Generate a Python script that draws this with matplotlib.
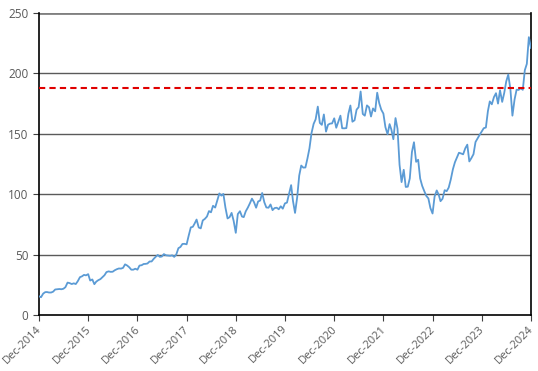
import pandas as pd
import matplotlib
matplotlib.use("Agg")
import matplotlib.pyplot as plt
import matplotlib.transforms as mtransforms

# semi-monthly closes (15th and month end)
start_value = 15.5  # 31 Dec 2014
p2015 = [14.7, 17.7, 18.9, 19.0, 18.6, 18.6, 19.3, 21.1, 21.3, 21.5, 21.3, 21.7,
         23.0, 26.8, 26.4, 25.6, 26.2, 25.6, 28.0, 31.3, 32.0, 33.2, 32.8, 33.8]
p2016 = [28.5, 29.4, 25.5, 27.6, 28.8, 29.7, 31.3, 32.9, 35.5, 36.1, 35.7, 35.8,
         37.0, 37.9, 38.5, 38.4, 39.0, 41.9, 41.0, 39.5, 37.5, 37.5, 38.3, 37.5]
p2017 = [40.9, 41.2, 42.2, 42.3, 42.6, 44.3, 44.3, 46.4, 48.1, 49.7, 48.1, 48.4,
         50.4, 49.4, 49.2, 49.0, 49.4, 48.1, 50.0, 55.3, 56.3, 58.8, 58.9, 58.5]
p2018 = [65.5, 72.5, 73.0, 75.6, 79.0, 72.4, 71.7, 78.3, 79.5, 81.5, 86.0, 85.0,
         90.4, 88.9, 94.5, 100.6, 98.8, 100.2, 89.0, 79.9, 81.0, 84.5, 78.0, 68.0]
p2019 = [83.5, 85.9, 81.5, 81.0, 85.8, 89.0, 92.5, 96.3, 93.5, 88.8, 94.0, 94.7,
         101.0, 93.3, 89.0, 88.8, 91.5, 86.8, 88.5, 88.8, 87.5, 90.0, 88.0, 92.4]
p2020 = [93.0, 100.4, 107.5, 94.2, 84.5, 97.5, 115.4, 123.7, 122.0, 122.1, 129.5, 137.9,
         150.4, 158.2, 162.0, 172.5, 159.0, 157.4, 166.0, 151.8, 157.5, 158.4, 158.6, 162.8]
p2021 = [155.0, 160.3, 165.0, 154.6, 154.5, 154.7, 166.5, 173.4, 160.0, 161.2, 170.0, 172.0,
         185.0, 166.4, 165.0, 173.5, 172.0, 164.3, 171.0, 168.6, 184.0, 175.4, 170.0, 166.7]
p2022 = [155.5, 149.6, 158.0, 153.6, 145.5, 163.0, 154.0, 124.3, 110.0, 120.2, 106.0, 106.2,
         113.0, 135.0, 143.0, 126.8, 128.5, 113.0, 106.9, 102.4, 98.5, 96.5, 88.5, 84.0]
p2023 = [98.0, 103.1, 99.5, 94.2, 96.2, 103.3, 102.5, 105.5, 112.0, 120.6, 126.4, 130.4,
         134.3, 133.7, 133.0, 138.0, 141.0, 127.1, 129.8, 133.1, 143.2, 146.1, 149.0, 151.9]
p2024 = [154.6, 155.2, 168.8, 176.8, 174.4, 180.4, 183.6, 175.0, 186.0, 176.4, 183.7, 193.3,
         199.0, 187.0, 165.0, 178.5, 186.5, 186.3, 187.7, 186.4, 202.6, 207.9, 230.0, 221.0]
years = [2015, 2016, 2017, 2018, 2019, 2020, 2021, 2022, 2023, 2024]
ref_level = 188
tick_years = list(range(2014, 2025))

prices = [start_value]
dates = [pd.Timestamp(2014, 12, 31)]
for y, vals in zip(years, [p2015, p2016, p2017, p2018, p2019, p2020,
                            p2021, p2022, p2023, p2024]):
    prices += vals
    for m in range(1, 13):
        dates.append(pd.Timestamp(y, m, 15))
        dates.append(pd.Timestamp(y, m, 1) + pd.offsets.MonthEnd(0))

plt.rcParams['font.family'] = ['Open Sans', 'DejaVu Sans']
fig = plt.figure(figsize=(5.38, 3.71), dpi=100)
ax = fig.add_axes([0.0725, 0.151, 0.9145, 0.814])

# gridlines
for v in [50, 100, 150, 200]:
    ax.axhline(v, color='#5a5a5a', lw=1.0, zorder=1)
ax.axhline(250, color='#808080', lw=2.0, zorder=1)

ax.plot(dates, prices, color='#5B9BD5', lw=1.3, zorder=3)
ax.axhline(ref_level, color='#E00000', lw=1.5, ls=(0, (3, 2)), zorder=4)

ax.set_ylim(0, 250)
ax.set_yticks([0, 50, 100, 150, 200, 250])
ax.set_xlim(pd.Timestamp(2014, 12, 31), pd.Timestamp(2024, 12, 31))
ticks = [pd.Timestamp(y, 12, 31) for y in tick_years]
ax.set_xticks(ticks)
ax.set_xticklabels([])

# rotated date labels, nudged a little left so the last one stays inside
lbl_tr = ax.get_xaxis_transform() + mtransforms.ScaledTranslation(
    -2 / 72, -6 / 72, fig.dpi_scale_trans)
for t, y in zip(ticks, tick_years):
    ax.text(t, 0, 'Dec-%d' % y, transform=lbl_tr, rotation=45,
            ha='right', va='top', rotation_mode='anchor',
            fontsize=8, color='#595959')

ax.spines['top'].set_visible(False)
for side in ['left', 'bottom', 'right']:
    ax.spines[side].set_color('black')
    ax.spines[side].set_linewidth(1.2)

ax.tick_params(axis='both', labelsize=8.5, labelcolor='#595959', length=4,
               color='#404040')

fig.savefig('out.png', dpi=100)
